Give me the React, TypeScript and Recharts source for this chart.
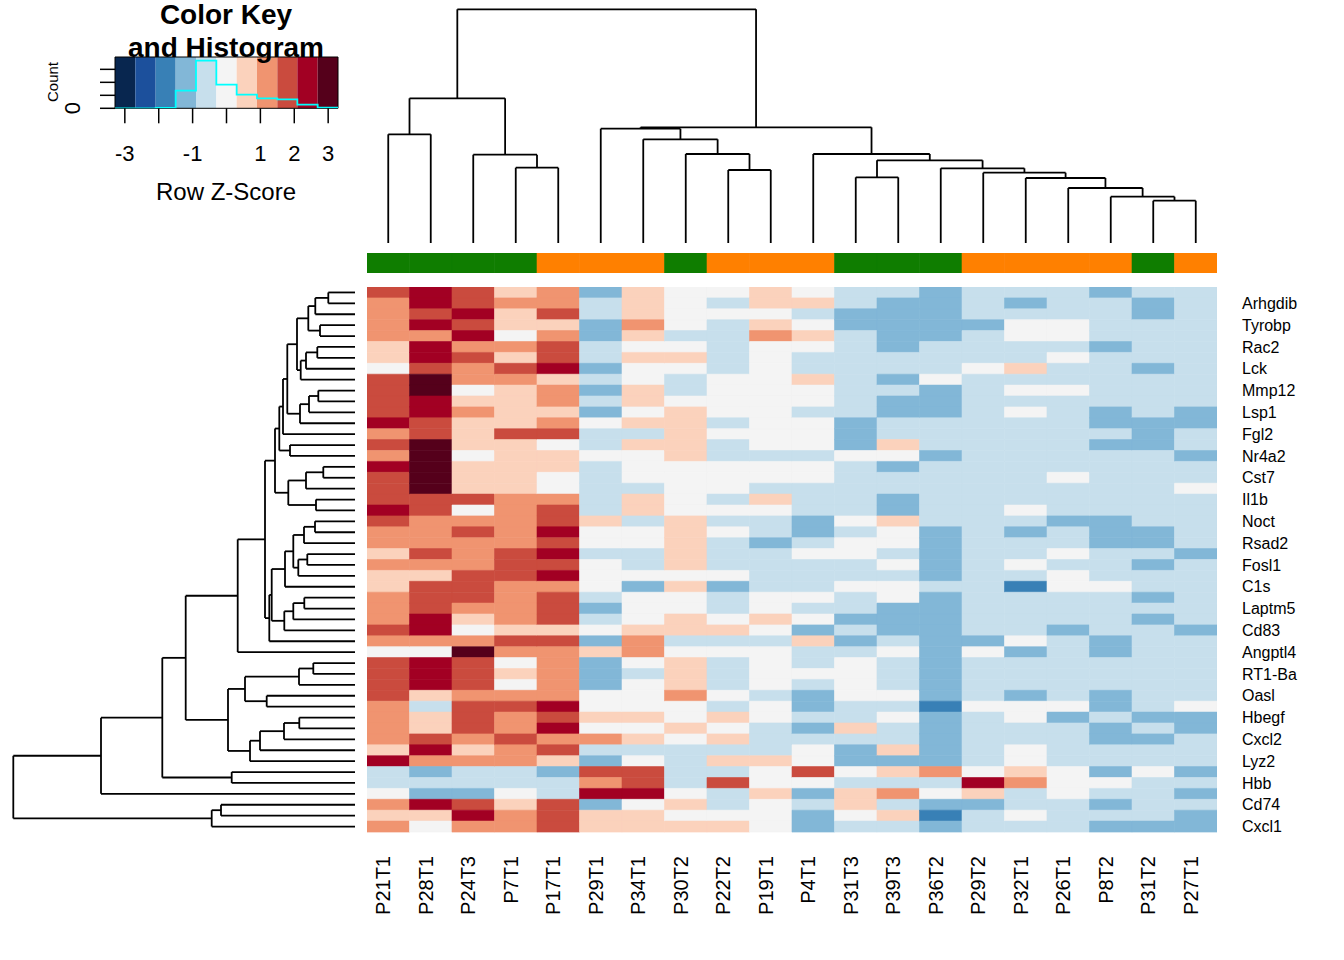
import React from 'react';
import {
  BarChart,
  Bar,
  Cell,
  XAxis,
  YAxis,
  ScatterChart,
  Scatter,
  ReferenceLine,
  ReferenceArea,
  ComposedChart,
  Line,
} from 'recharts';

const FONT = "'Liberation Sans', Arial, Helvetica, sans-serif";

// samples (columns, in dendrogram order)
const COLS = [
  'P21T1', 'P28T1', 'P24T3', 'P7T1', 'P17T1', 'P29T1', 'P34T1', 'P30T2', 'P22T2', 'P19T1',
  'P4T1', 'P31T3', 'P39T3', 'P36T2', 'P29T2', 'P32T1', 'P26T1', 'P8T2', 'P31T2', 'P27T1',
];

// side colour bar group of each sample
const GROUPS = ['G', 'G', 'G', 'G', 'O', 'O', 'O', 'G', 'O', 'O', 'O', 'G', 'G', 'G', 'O', 'O', 'O', 'O', 'G', 'O'];
const GROUP_COLORS: Record<string, string> = { G: '#0f7d00', O: '#ff8000' };

// only every other row carries a visible label
const ROW_LABELS = [
  '', 'Arhgdib', '', 'Tyrobp', '', 'Rac2', '', 'Lck', '', 'Mmp12',
  '', 'Lsp1', '', 'Fgl2', '', 'Nr4a2', '', 'Cst7', '', 'Il1b',
  '', 'Noct', '', 'Rsad2', '', 'Fosl1', '', 'C1s', '', 'Laptm5',
  '', 'Cd83', '', 'Angptl4', '', 'RT1-Ba', '', 'Oasl', '', 'Hbegf',
  '', 'Cxcl2', '', 'Lyz2', '', 'Hbb', '', 'Cd74', '', 'Cxcl1',
];

// colour bin of each cell (0 = lowest z-score bin .. A = highest), one string per row
const LEVELS = [
  '89867365565443444344',
  '79877465466433434434',
  '78968465554333444434',
  '79866375465333355444',
  '77957364476433455444',
  '69778455455434444344',
  '69868466454444445444',
  '58789355454444564434',
  '8A776454556435444444',
  '8A567364555443455444',
  '89667465555433444444',
  '89766356554433454343',
  '98667566455344444333',
  '78688446555344444434',
  '8A665466455364444334',
  '7A566556444553444443',
  '9A666455555434444444',
  '8A665455555444445444',
  '8A665445544444444445',
  '88877465464434444444',
  '98578465554434454444',
  '87778646443564443344',
  '77879556543453434334',
  '77778556434553444334',
  '68789446445543445443',
  '77788546444453454434',
  '66889555544443445444',
  '68877536344554425544',
  '78878455455453444434',
  '78778355454433444444',
  '79678456565333444434',
  '89566566653433443443',
  '77788374446343354344',
  '55A77675554453534344',
  '89857356454543444444',
  '89867346455543444444',
  '89857356454543444444',
  '86777557543553434344',
  '74889555453442555345',
  '76878665654453453433',
  '76879556543643444343',
  '78787765644443444334',
  '69678444445363454444',
  '97776354665333454444',
  '43443884458567565353',
  '44444784855444975544',
  '53354995463675645443',
  '79868356454643344344',
  '66978665553562454443',
  '75778666653443444333',
];

const PALETTE = [
  '#08264f', '#1c509c', '#3880b6', '#82b7d7', '#c7dfec', '#f4f4f4',
  '#fbd2bc', '#f09470', '#ca4b3e', '#a20023', '#55001b',
];

// colour key: bin breaks (z-score) and histogram counts per bin
const BREAKS = [-3.29, -2.69, -2.09, -1.5, -0.9, -0.3, 0.3, 0.9, 1.5, 2.09, 2.69, 3.29];
const HIST_COUNTS = [0, 0, 3, 136, 367, 182, 105, 77, 69, 28, 5];
const KEY_TICKS = [-3, -2, -1, 0, 1, 2, 3];
const KEY_LABELS: Record<number, string> = { [-3]: '-3', [-1]: '-1', 1: '1', 2: '2', 3: '3' };
const COUNT_TICKS = [0, 100, 200, 300];

// dendrograms: [left, right, merge height]; leaves are indices
type Node = number | [Node, Node, number];

const COL_TREE: Node = [
  [[0, 1, 108.7], [2, [3, 4, 75.3], 88.3], 144.7],
  [
    [5, [6, [7, [8, 9, 73], 89], 103.7], 114.3],
    [10, [[11, 12, 65.7], [13, [14, [15, [16, [17, [18, 19, 42.3], 46.3], 55], 65], 70.3], 74.7], 82.7], 89],
    115.7,
  ],
  233.7,
];

const rowA: Node = [[[0, 1, 26.7], 2, 39.7], [3, 4, 35], 46.7];
const rowB: Node = [[[5, 6, 37.7], 7, 49], 8, 54.3];
const rowC: Node = [[[9, 10, 36.7], 11, 46], 12, 55];
const rowTop1: Node = [[[[rowA, rowB, 58], rowC, 67.7], 13, 72], [14, 15, 65], 75.7];
const rowE: Node = [[[16, 17, 31.7], 18, 49], [19, 20, 39], 66.7];
const rowF: Node = [[[[21, 22, 40], 23, 51], [[24, 25, 47.7], 26, 56.7], 61.7], 27, 70];
const rowG: Node = [[[28, 29, 50.7], 30, 61.7], 31, 70.7];
const rowTop3: Node = [[rowTop1, rowE, 80], [[rowF, rowG, 83.3], 32, 85.7], 90];
const rowH: Node = [
  [[[34, 35, 41.7], 36, 56], [37, 38, 88.3], 110],
  [[[[39, 40, 55.7], 41, 71], 42, 95], 43, 105],
  127,
];
const ROW_TREE: Node = [
  [[[[rowTop3, 33, 117.3], rowH, 169.3], [44, 45, 123.3], 192.7], 46, 254],
  [[47, 48, 134], 49, 143.3],
  341.7,
];

type Seg = { x1: number; y1: number; x2: number; y2: number };

function walk(node: Node, segs: Seg[]): { pos: number; h: number } {
  if (typeof node === 'number') return { pos: node + 0.5, h: 0 };
  const a = walk(node[0], segs);
  const b = walk(node[1], segs);
  const h = node[2];
  segs.push({ x1: a.pos, y1: a.h, x2: a.pos, y2: h });
  segs.push({ x1: b.pos, y1: b.h, x2: b.pos, y2: h });
  segs.push({ x1: a.pos, y1: h, x2: b.pos, y2: h });
  return { pos: (a.pos + b.pos) / 2, h };
}

const colSegs: Seg[] = [];
walk(COL_TREE, colSegs);
const rowSegs: Seg[] = [];
walk(ROW_TREE, rowSegs);

const heatData = LEVELS.map((s, r) => {
  const o: Record<string, number> = { id: r };
  COLS.forEach((c) => (o[c] = 1));
  return o;
});
const barData = [heatData[0]];
const colTicks = COLS.map((_, i) => i + 0.5);
const histData = BREAKS.map((b, i) => ({ x: b, count: HIST_COUNTS[Math.min(i, HIST_COUNTS.length - 1)] }));

// rotated sample names, reading bottom-to-top, baseline just right of the column centre
const ColTick = (props: any) => {
  const { x, y, payload } = props;
  const bx = x + 2;
  return (
    <text
      x={bx}
      y={y}
      transform={`rotate(-90 ${bx} ${y})`}
      textAnchor="end"
      fontSize={20}
      fontFamily={FONT}
      fill="#000"
    >
      {COLS[Math.floor(payload.value)]}
    </text>
  );
};

const abs = (left: number, top: number): React.CSSProperties => ({ position: 'absolute', left, top });

export default function App() {
  return (
    <div style={{ position: 'absolute', left: 0, top: 0, width: 1344, height: 960, background: '#fff' }}>
      {/* colour key */}
      <div style={abs(0, 0)}>
        <ComposedChart width={360} height={210} data={histData} margin={{ top: 57, right: 22, bottom: 56.7, left: 100 }}>
          <XAxis
            type="number"
            dataKey="x"
            domain={[BREAKS[0], BREAKS[BREAKS.length - 1]]}
            allowDataOverflow
            ticks={KEY_TICKS}
            interval={0}
            height={45}
            tickSize={15}
            tickMargin={22}
            axisLine={false}
            tickLine={{ stroke: '#000', strokeWidth: 1.5 }}
            tickFormatter={(v: number) => KEY_LABELS[v] ?? ''}
            tick={{ fontSize: 22, fill: '#000', fontFamily: FONT }}
          />
          <YAxis
            type="number"
            domain={[0, 395]}
            allowDataOverflow
            ticks={COUNT_TICKS}
            interval={0}
            width={15}
            tickSize={15}
            axisLine={false}
            tickLine={{ stroke: '#000', strokeWidth: 1.5 }}
            tickFormatter={() => ''}
          />
          {PALETTE.map((c, i) => (
            <ReferenceArea key={i} x1={BREAKS[i]} x2={BREAKS[i + 1]} y1={0} y2={395} fill={c} fillOpacity={1} stroke="none" />
          ))}
          <Line type="stepAfter" dataKey="count" stroke="#00ffff" strokeWidth={1.8} dot={false} isAnimationActive={false} />
          <ReferenceArea x1={BREAKS[0]} x2={BREAKS[BREAKS.length - 1]} y1={0} y2={395} fill="none" stroke="#000" strokeWidth={1} />
        </ComposedChart>
      </div>
      <svg width={460} height={210} style={{ ...abs(0, 0), pointerEvents: 'none' }} fontFamily={FONT}>
        <text x={226} y={14} textAnchor="middle" dominantBaseline="central" fontSize={28} fontWeight="bold">Color Key</text>
        <text x={226} y={47} textAnchor="middle" dominantBaseline="central" fontSize={28} fontWeight="bold">and Histogram</text>
        <text x={226} y={191} textAnchor="middle" dominantBaseline="central" fontSize={24}>Row Z-Score</text>
        <text x={52} y={82} textAnchor="middle" dominantBaseline="central" fontSize={15} transform="rotate(-90 52 82)">Count</text>
        <text x={72} y={108} textAnchor="middle" dominantBaseline="central" fontSize={22} transform="rotate(-90 72 108)">0</text>
      </svg>

      {/* column dendrogram */}
      <div style={abs(367, 0)}>
        <ScatterChart width={850} height={243} margin={{ top: 0, right: 0, bottom: 0, left: 0 }}>
          <XAxis type="number" dataKey="pos" domain={[0, 20]} allowDataOverflow hide />
          <YAxis type="number" dataKey="h" domain={[0, 243]} allowDataOverflow hide />
          <Scatter data={colTicks.map((p) => ({ pos: p, h: 0 }))} isAnimationActive={false} shape={() => <g />} />
          {colSegs.map((s, i) => (
            <ReferenceLine key={i} segment={[{ x: s.x1, y: s.y1 }, { x: s.x2, y: s.y2 }]} stroke="#000" strokeWidth={1.8} />
          ))}
        </ScatterChart>
      </div>

      {/* side colour bar */}
      <div style={abs(367, 253)}>
        <BarChart layout="vertical" width={850} height={20} data={barData} margin={{ top: 0, right: 0, bottom: 0, left: 0 }} barCategoryGap={0} barGap={0}>
          <XAxis type="number" domain={[0, 20]} allowDataOverflow hide />
          <YAxis type="category" dataKey="id" hide />
          {COLS.map((c, ci) => (
            <Bar key={c} dataKey={c} stackId="g" isAnimationActive={false}>
              <Cell fill={GROUP_COLORS[GROUPS[ci]]} stroke={GROUP_COLORS[GROUPS[ci]]} strokeWidth={0.6} />
            </Bar>
          ))}
        </BarChart>
      </div>

      {/* row dendrogram */}
      <div style={abs(0, 287)}>
        <ScatterChart width={355} height={545} margin={{ top: 0, right: 0, bottom: 0, left: 0 }}>
          <XAxis type="number" dataKey="h" domain={[0, 355]} reversed allowDataOverflow hide />
          <YAxis type="number" dataKey="pos" domain={[0, 50]} reversed allowDataOverflow hide />
          <Scatter data={LEVELS.map((_, r) => ({ pos: r + 0.5, h: 0 }))} isAnimationActive={false} shape={() => <g />} />
          {rowSegs.map((s, i) => (
            <ReferenceLine key={i} segment={[{ x: s.y1, y: s.x1 }, { x: s.y2, y: s.x2 }]} stroke="#000" strokeWidth={1.8} />
          ))}
        </ScatterChart>
      </div>

      {/* heatmap */}
      <div style={abs(367, 287)}>
        <BarChart layout="vertical" width={960} height={645} data={heatData} margin={{ top: 0, right: 0, bottom: 0, left: 0 }} barCategoryGap={0} barGap={0}>
          <XAxis
            type="number"
            domain={[0, 20]}
            allowDataOverflow
            ticks={colTicks}
            interval={0}
            height={100}
            tickSize={0}
            tickMargin={24}
            tickLine={false}
            axisLine={false}
            tick={<ColTick />}
          />
          <YAxis
            type="category"
            dataKey="id"
            orientation="right"
            width={110}
            interval={0}
            tickSize={0}
            tickMargin={25}
            tickLine={false}
            axisLine={false}
            tickFormatter={(i: number) => ROW_LABELS[i]}
            tick={{ fontSize: 16, fill: '#000', fontFamily: FONT }}
          />
          {COLS.map((c, ci) => (
            <Bar key={c} dataKey={c} stackId="h" isAnimationActive={false}>
              {LEVELS.map((s, ri) => {
                const col = PALETTE[parseInt(s[ci], 16)];
                return <Cell key={ri} fill={col} stroke={col} strokeWidth={0.6} />;
              })}
            </Bar>
          ))}
        </BarChart>
      </div>
    </div>
  );
}
